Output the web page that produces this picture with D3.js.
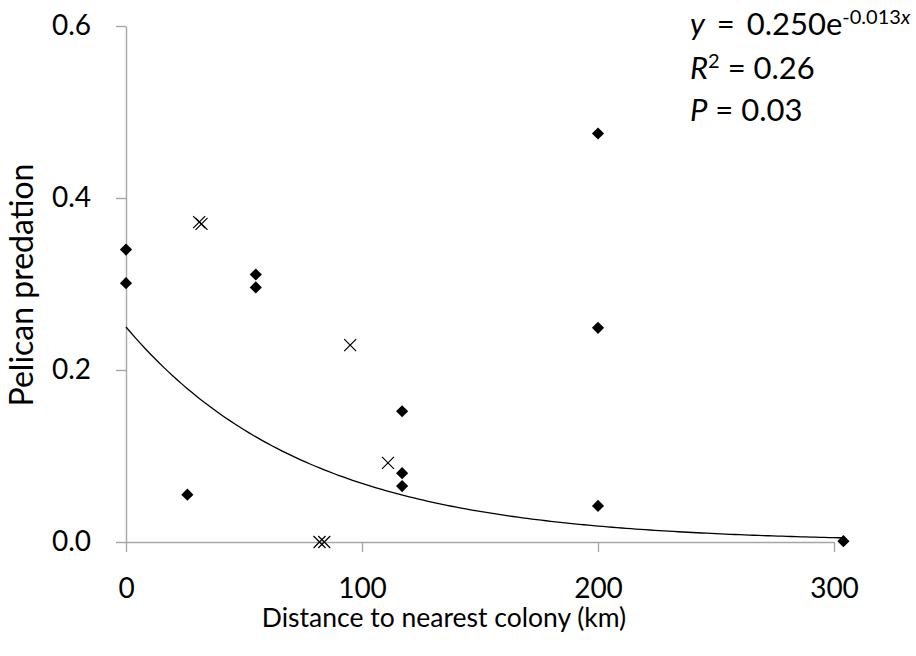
<!DOCTYPE html>
<html>
<head>
<meta charset="utf-8">
<script src="https://cdn.jsdelivr.net/npm/d3@7"></script>
<style>
  body { margin: 0; background: #fff; }
  text { font-family: Lato, "Open Sans", sans-serif; fill: #000; }
</style>
</head>
<body>
<svg id="chart" width="916" height="656"></svg>
<script>

// colonies with known distance (filled diamonds)
var diamond_km = [0, 0, 55, 55, 26, 117, 117, 117, 200, 200, 200, 304]
var diamond_pred = [0.340, 0.301, 0.311, 0.296, 0.055, 0.152, 0.080, 0.065, 0.475, 0.249, 0.042, 0.001]

// other sites (crosses)
var cross_km = [31, 32, 95, 111, 82, 84]
var cross_pred = [0.372, 0.370, 0.229, 0.092, 0.000, 0.000]

var x_ticks = [0, 100, 200, 300]
var y_ticks = [0, 0.2, 0.4, 0.6]

// exponential fit shown in the top right
var fit_a = 0.250
var fit_b = -0.013
var fit_r2 = "0.26"
var fit_p = "0.03"

var svg = d3.select("#chart")

var x = d3.scaleLinear().domain([0, 300]).range([126, 834])
var y = d3.scaleLinear().domain([0, 0.6]).range([542, 26])

var axis_grey = "#a6a6a6"

// axes
var gx = svg.append("g")
  .attr("transform", "translate(0," + y(0) + ")")
  .call(d3.axisBottom(x).tickValues(x_ticks).tickSize(10).tickSizeOuter(0).tickPadding(26))

var gy = svg.append("g")
  .attr("transform", "translate(" + x(0) + ",0)")
  .call(d3.axisLeft(y).tickValues(y_ticks).tickSize(10).tickSizeOuter(0).tickPadding(25)
    .tickFormat(d3.format(".1f")))

svg.selectAll(".domain, .tick line")
  .attr("stroke", axis_grey)
  .attr("stroke-width", 1.4)

svg.selectAll(".tick text")
  .style("font-size", "28px")
  .attr("fill", "#000")

// axis titles
svg.append("text")
  .attr("x", 444)
  .attr("y", 627)
  .attr("text-anchor", "middle")
  .style("font-size", "26.5px")
  .text("Distance to nearest colony (km)")

svg.append("text")
  .attr("transform", "translate(33,285) rotate(-90)")
  .attr("text-anchor", "middle")
  .style("font-size", "32px")
  .text("Pelican predation")

// trend line
var fit_x = d3.range(0, 304.5, 2)
var line = d3.line()
  .x(function(d){ return x(d) })
  .y(function(d){ return y(fit_a * Math.exp(fit_b * d)) })

svg.append("path")
  .datum(fit_x)
  .attr("d", line)
  .attr("fill", "none")
  .attr("stroke", "#000")
  .attr("stroke-width", 1.3)

// markers
var diamonds = diamond_km.map(function(d, i){ return {km: d, pred: diamond_pred[i]} })
var crosses = cross_km.map(function(d, i){ return {km: d, pred: cross_pred[i]} })

svg.selectAll(".diamond").data(diamonds).enter().append("path")
  .attr("class", "diamond")
  .attr("d", d3.symbol().type(d3.symbolSquare).size(74))
  .attr("transform", function(d){ return "translate(" + x(d.km) + "," + y(d.pred) + ") rotate(45)" })
  .attr("fill", "#000")

var cross_type = {
  draw: function(context, size) {
    var r = Math.sqrt(size) / 2
    context.moveTo(-r, -r); context.lineTo(r, r)
    context.moveTo(r, -r); context.lineTo(-r, r)
  }
}

svg.selectAll(".cross").data(crosses).enter().append("path")
  .attr("class", "cross")
  .attr("d", d3.symbol().type(cross_type).size(144))
  .attr("transform", function(d){ return "translate(" + x(d.km) + "," + y(d.pred) + ")" })
  .attr("fill", "none")
  .attr("stroke", "#000")
  .attr("stroke-width", 1.2)

// equation block
var eq = svg.append("g").style("font-size", "31px")

var l1 = eq.append("text").attr("x", 690).attr("y", 35)
l1.append("tspan").style("font-style", "italic").text("y")
l1.append("tspan").attr("dx", 4).text(" = ")
l1.append("tspan").attr("dx", 4).text(fit_a.toFixed(3) + "e")
l1.append("tspan").attr("dy", -11).style("font-size", "20px").text(fit_b.toFixed(3))
l1.append("tspan").style("font-size", "20px").style("font-style", "italic").text("x")

var l2 = eq.append("text").attr("x", 690).attr("y", 79)
l2.append("tspan").style("font-style", "italic").text("R")
l2.append("tspan").attr("dy", -11).style("font-size", "20px").text("2")
l2.append("tspan").attr("dy", 11).text(" = " + fit_r2)

var l3 = eq.append("text").attr("x", 690).attr("y", 121)
l3.append("tspan").style("font-style", "italic").text("P")
l3.append("tspan").text(" = " + fit_p)

</script>
</body>
</html>
